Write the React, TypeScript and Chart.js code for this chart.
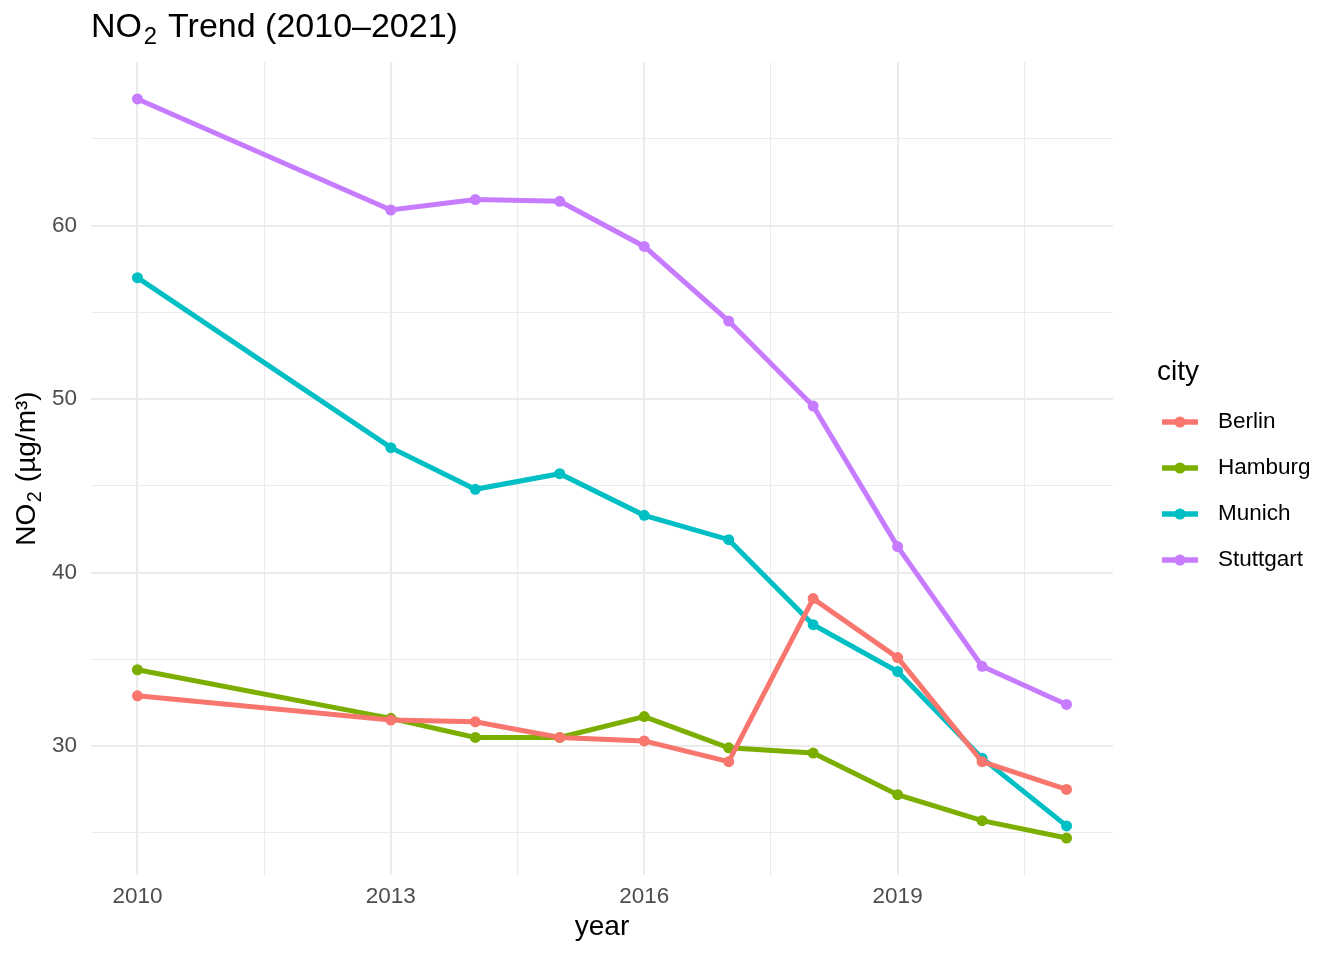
import React, { useEffect, useRef } from "react";
import { Chart, registerables } from "chart.js";

Chart.register(...registerables);

const years = [2010, 2013, 2014, 2015, 2016, 2017, 2018, 2019, 2020, 2021];
const cities = ["Berlin", "Hamburg", "Munich", "Stuttgart"];
const berlin = [32.9, 31.5, 31.4, 30.5, 30.3, 29.1, 38.5, 35.1, 29.1, 27.5];
const hamburg = [34.4, 31.6, 30.5, 30.5, 31.7, 29.9, 29.6, 27.2, 25.7, 24.7];
const munich = [57.0, 47.2, 44.8, 45.7, 43.3, 41.9, 37.0, 34.3, 29.3, 25.4];
const stuttgart = [67.3, 60.9, 61.5, 61.4, 58.8, 54.5, 49.6, 41.5, 34.6, 32.4];
const colors = ["#F8766D", "#7CAE00", "#00BFC4", "#C77CFF"];

const xTicks = [2010, 2011.5, 2013, 2014.5, 2016, 2017.5, 2019, 2020.5];
const xLabels = [2010, 2013, 2016, 2019];
const yTicks = [25, 30, 35, 40, 45, 50, 55, 60, 65];
const yLabels = [30, 40, 50, 60];

const FONT = "'Liberation Sans', Arial, Helvetica, sans-serif";

type Part = { t: string; sub?: boolean };

function drawRich(ctx: CanvasRenderingContext2D, parts: Part[], x: number, y: number, size: number, align: "left" | "center") {
  const subSize = size * 0.7;
  const widths = parts.map((p) => {
    ctx.font = `${p.sub ? subSize : size}px ${FONT}`;
    return ctx.measureText(p.t).width + (p.sub ? size * 0.1 : 0);
  });
  const total = widths.reduce((a, b) => a + b, 0);
  let cx = align === "center" ? x - total / 2 : x;
  ctx.textAlign = "left";
  ctx.textBaseline = "alphabetic";
  parts.forEach((p, i) => {
    ctx.font = `${p.sub ? subSize : size}px ${FONT}`;
    ctx.fillText(p.t, cx + (p.sub ? size * 0.05 : 0), p.sub ? y + size * 0.22 : y);
    cx += widths[i];
  });
}

function expand(vals: number[]) {
  const mn = Math.min(...vals);
  const mx = Math.max(...vals);
  const pad = (mx - mn) * 0.05;
  return [mn - pad, mx + pad];
}

export default function App() {
  const ref = useRef<HTMLCanvasElement | null>(null);

  useEffect(() => {
    document.body.style.margin = "0";
    const series = [berlin, hamburg, munich, stuttgart];
    const [xMin, xMax] = expand(years);
    const [yMin, yMax] = expand(series.flat());

    const decorations = {
      id: "decorations",
      afterDraw(chart: any) {
        const ctx = chart.ctx as CanvasRenderingContext2D;
        const area = chart.chartArea;
        ctx.save();
        ctx.fillStyle = "#000000";
        // title
        drawRich(ctx, [{ t: "NO" }, { t: "2", sub: true }, { t: " Trend (2010–2021)" }], area.left, 37, 34, "left");
        // x title
        ctx.font = `28px ${FONT}`;
        ctx.textAlign = "center";
        ctx.textBaseline = "alphabetic";
        ctx.fillText("year", (area.left + area.right) / 2, 935);
        // y title
        ctx.save();
        ctx.translate(35, (area.top + area.bottom) / 2);
        ctx.rotate(-Math.PI / 2);
        drawRich(ctx, [{ t: "NO" }, { t: "2", sub: true }, { t: " (µg/m³)" }], 0, 0, 28, "center");
        ctx.restore();
        // legend
        ctx.font = `28px ${FONT}`;
        ctx.textAlign = "left";
        ctx.textBaseline = "alphabetic";
        ctx.fillText("city", 1157, 380);
        cities.forEach((c, i) => {
          const y = 422 + i * 46;
          ctx.strokeStyle = colors[i];
          ctx.lineWidth = 5.5;
          ctx.lineCap = "butt";
          ctx.beginPath();
          ctx.moveTo(1162, y);
          ctx.lineTo(1198, y);
          ctx.stroke();
          ctx.fillStyle = colors[i];
          ctx.beginPath();
          ctx.arc(1180, y, 5.6, 0, Math.PI * 2);
          ctx.fill();
          ctx.fillStyle = "#000000";
          ctx.font = `22.5px ${FONT}`;
          ctx.textBaseline = "middle";
          ctx.fillText(c, 1218, y);
        });
        ctx.restore();
      },
    };

    const chart = new Chart(ref.current as HTMLCanvasElement, {
      type: "line",
      data: {
        datasets: cities.map((c, i) => ({
          label: c,
          data: years.map((yr, j) => ({ x: yr, y: series[i][j] })),
          borderColor: colors[i],
          backgroundColor: colors[i],
          borderWidth: 5,
          pointRadius: 5.5,
          pointBorderWidth: 0,
          pointHoverRadius: 5.5,
          tension: 0,
          fill: false,
        })),
      },
      options: {
        responsive: false,
        animation: false,
        events: [],
        layout: { padding: { top: 62, right: 231, left: 0, bottom: 0 } },
        plugins: { legend: { display: false }, tooltip: { enabled: false }, title: { display: false } },
        scales: {
          x: {
            type: "linear",
            min: xMin,
            max: xMax,
            afterBuildTicks: (s: any) => {
              s.ticks = xTicks.map((v) => ({ value: v }));
            },
            afterFit: (s: any) => {
              s.height = 85;
            },
            ticks: {
              autoSkip: false,
              maxRotation: 0,
              padding: 8,
              color: "#4D4D4D",
              font: { family: FONT, size: 22.5 },
              callback: (v: any) => (xLabels.includes(Number(v)) ? String(v) : ""),
            },
            grid: {
              drawTicks: false,
              color: "#EBEBEB",
              lineWidth: (c: any) => (xLabels.includes(c.tick?.value) ? 2.1 : 1.1),
            },
            border: { display: false },
          },
          y: {
            type: "linear",
            min: yMin,
            max: yMax,
            afterBuildTicks: (s: any) => {
              s.ticks = yTicks.map((v) => ({ value: v }));
            },
            afterFit: (s: any) => {
              s.width = 91;
            },
            ticks: {
              autoSkip: false,
              padding: 14,
              color: "#4D4D4D",
              font: { family: FONT, size: 22.5 },
              callback: (v: any) => (yLabels.includes(Number(v)) ? String(v) : ""),
            },
            grid: {
              drawTicks: false,
              color: "#EBEBEB",
              lineWidth: (c: any) => (yLabels.includes(c.tick?.value) ? 2.1 : 1.1),
            },
            border: { display: false },
          },
        },
      },
      plugins: [decorations],
    } as any);
    return () => chart.destroy();
  }, []);

  return (
    <div style={{ position: "fixed", left: 0, top: 0, width: 1344, height: 960, background: "#ffffff" }}>
      <canvas ref={ref} width={1344} height={960} style={{ display: "block" }} />
    </div>
  );
}
